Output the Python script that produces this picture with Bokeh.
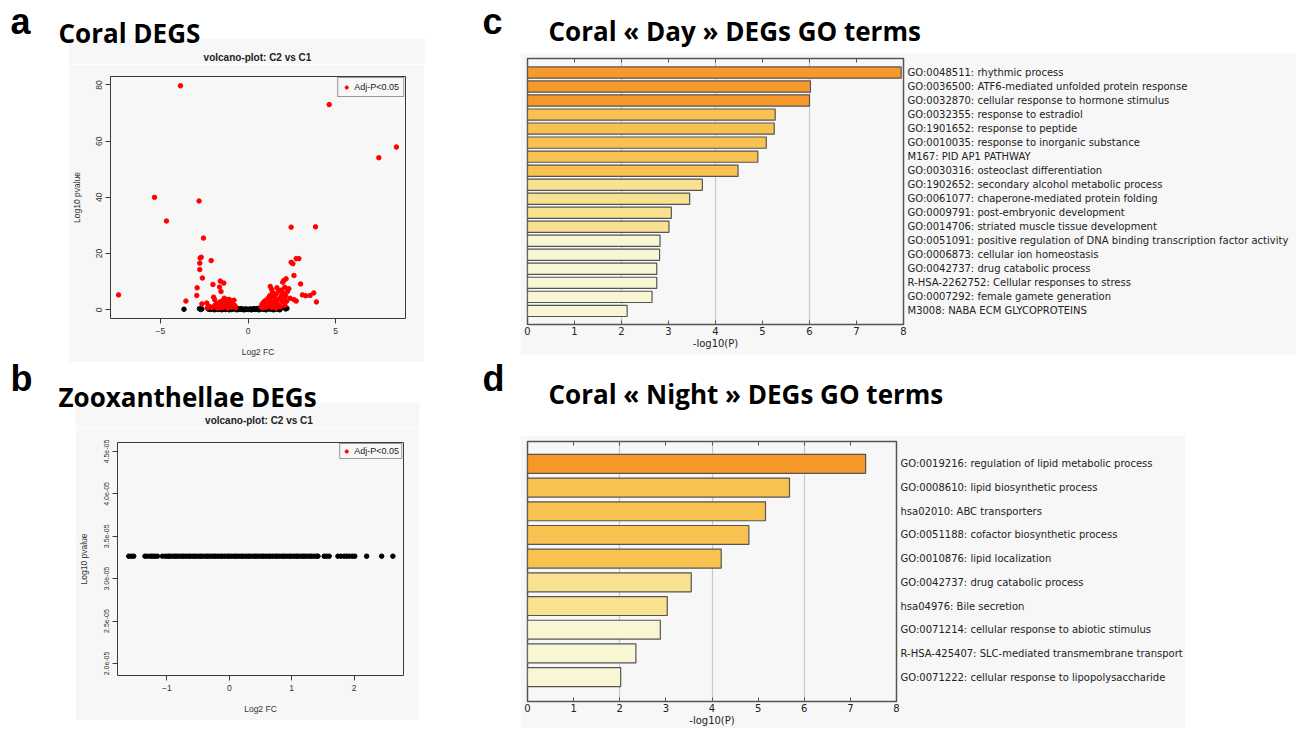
from bokeh.plotting import figure
from bokeh.models import (Range1d, FixedTicker, LinearAxis, Legend, LegendItem,
                          CustomJSTickFormatter, Spacer, BoxAnnotation)
from bokeh.layouts import column, row
from bokeh.core.properties import value
from bokeh.embed import file_html
from bokeh.resources import INLINE

# ---------------- data ----------------
# Panel a: coral volcano plot (Log2 FC, -log10 p)
coral_sig_points = [
    (-7.38, 5.3), (-3.85, 79.7), (-5.33, 40.0), (-4.65, 31.6), (-2.79, 38.7),
    (-2.54, 25.5), (-3.54, 3.1), (4.63, 73.0), (7.46, 54.1), (8.46, 57.9),
    (2.46, 29.4), (3.85, 29.5),
    (-2.73, 18.4), (-2.67, 18.7), (-2.75, 16.6), (-2.75, 14.3), (-2.60, 11.3),
    (-2.90, 7.8), (-2.92, 5.1), (-2.63, 2.1), (-2.10, 17.5), (-2.00, 9.0),
    (-1.58, 10.2), (-1.38, 9.5), (-1.62, 8.1), (-1.54, 6.5), (-1.96, 4.5),
    (-1.90, 3.6), (-2.35, 2.4),
    (-2.20, 1.2), (-2.05, 0.8), (-1.90, 1.5), (-1.80, 2.2), (-1.70, 1.0),
    (-1.60, 2.8), (-1.50, 1.8), (-1.45, 3.2), (-1.40, 0.9), (-1.30, 2.0),
    (-1.25, 3.6), (-1.20, 1.3), (-1.12, 2.6), (-1.05, 3.5), (-1.00, 1.7),
    (-0.95, 0.9), (-0.90, 2.3), (-0.85, 1.2), (-0.80, 3.4), (-0.75, 1.5),
    (-1.35, 4.1), (-1.15, 0.6), (-1.55, 0.7), (-0.70, 0.8), (-1.75, 0.6),
    (-2.30, 0.7), (-0.95, 2.9), (-1.10, 3.7),
    (2.46, 16.9), (2.56, 16.4), (2.75, 18.2), (2.90, 18.2), (2.62, 12.2),
    (3.00, 9.2), (2.04, 10.4), (2.17, 11.0), (1.98, 9.8), (2.33, 7.5),
    (3.10, 5.3), (3.29, 5.0), (3.54, 5.1), (3.75, 6.0), (3.90, 2.8),
    (2.40, 4.1), (2.62, 3.6), (2.75, 3.1), (1.27, 8.3), (1.65, 7.8),
    (0.75, 1.0), (0.80, 2.0), (0.85, 0.7), (0.90, 2.8), (0.95, 1.5),
    (1.00, 3.3), (1.05, 0.9), (1.10, 2.4), (1.15, 4.2), (1.20, 1.6),
    (1.25, 5.1), (1.30, 3.0), (1.35, 0.8), (1.40, 6.2), (1.45, 2.2),
    (1.50, 4.6), (1.55, 1.3), (1.60, 5.6), (1.65, 3.4), (1.70, 2.0),
    (1.75, 6.8), (1.80, 4.0), (1.85, 1.1), (1.90, 5.2), (1.95, 2.9),
    (2.00, 6.0), (2.05, 3.8), (2.10, 1.6), (2.15, 4.9), (2.20, 3.0),
    (1.35, 7.2), (1.90, 7.0), (1.50, 3.0), (1.20, 3.8), (1.05, 2.1),
    (1.75, 1.2), (1.60, 0.6), (2.25, 6.5), (2.10, 8.0), (1.30, 4.6),
]
coral_ns_points = [
    (-3.65, 0.2), (-2.77, 0.4), (-2.70, 0.1), (-2.63, 0.3), (-2.30, 0.6),
    (-2.24, 0.2), (-2.18, 0.8), (-2.12, 0.1), (-2.06, 0.5), (-2.00, 0.3),
    (-1.94, 0.7), (-1.88, 0.2), (-1.82, 0.4), (-1.76, 0.9), (-1.70, 0.1),
    (-1.64, 0.6), (-1.58, 0.3), (-1.52, 0.5), (-1.46, 0.2), (-1.40, 0.8),
    (-1.34, 0.4), (-1.28, 0.1), (-1.22, 0.6), (-1.16, 0.3), (-1.10, 0.7),
    (-1.04, 0.2), (-0.98, 0.5), (-0.92, 0.1), (-0.86, 0.4), (-0.80, 0.6),
    (-0.74, 0.3), (-0.68, 0.2), (-0.62, 0.5), (-0.56, 0.1), (-0.50, 0.3),
    (-0.44, 0.2), (-0.38, 0.4), (-0.32, 0.1), (-0.26, 0.2), (-0.20, 0.1),
    (-0.14, 0.3), (-0.08, 0.1), (-0.02, 0.2), (0.04, 0.1), (0.10, 0.2),
    (0.16, 0.3), (0.22, 0.1), (0.28, 0.2), (0.34, 0.4), (0.40, 0.1),
    (0.46, 0.3), (0.52, 0.2), (0.58, 0.5), (0.64, 0.1), (0.70, 0.4),
    (0.76, 0.6), (0.82, 0.2), (0.88, 0.3), (0.94, 0.7), (1.00, 0.1),
    (1.06, 0.5), (1.12, 0.4), (1.18, 0.8), (1.24, 0.2), (1.30, 0.6),
    (1.36, 0.3), (1.42, 0.7), (1.48, 0.1), (1.54, 0.5), (1.60, 0.9),
    (1.66, 0.2), (1.72, 0.4), (1.78, 0.6), (1.84, 0.3), (1.90, 0.8),
    (2.15, 0.3), (2.22, 0.5),
    (-1.91, 0.0), (-1.49, 0.0), (-1.07, 0.0), (-0.65, 0.0), (-0.23, 0.0),
    (0.19, 0.0), (0.61, 0.0), (1.03, 0.0), (1.45, 0.0), (1.81, 0.0),
]

# Panel b: zooxanthellae volcano plot (no significant genes)
zoox_x = [-1.61, -1.57, -1.53, -1.35, -1.31, -1.26, -1.23, -1.19, -1.15, -1.07,
          -1.02, -0.98, -0.95, -0.91, -0.87, -0.84, -0.80, -0.76, -0.73, -0.69,
          -0.65, -0.62, -0.58, -0.55, -0.51, -0.47, -0.44, -0.40, -0.36, -0.33,
          -0.29, -0.25, -0.22, -0.18, -0.14, -0.11, -0.07, -0.03, 0.00, 0.04,
          0.08, 0.11, 0.15, 0.19, 0.22, 0.26, 0.30, 0.33, 0.37, 0.41,
          0.44, 0.48, 0.52, 0.55, 0.59, 0.63, 0.66, 0.70, 0.74, 0.77,
          0.81, 0.85, 0.88, 0.92, 0.96, 0.99, 1.03, 1.07, 1.10, 1.14,
          1.18, 1.21, 1.25, 1.29, 1.32, 1.36, 1.40, 1.42, 1.52, 1.56,
          1.60, 1.74, 1.79, 1.84, 1.88, 1.92, 1.97, 2.01, 2.20, 2.44, 2.62]
zoox_logp = [3.265e-05] * len(zoox_x)
zoox_sig_x = [float("nan")]   # no significant gene: legend key only
zoox_sig_y = [float("nan")]

# Panel c: coral "Day" GO terms
day_terms = [
    "GO:0048511: rhythmic process",
    "GO:0036500: ATF6-mediated unfolded protein response",
    "GO:0032870: cellular response to hormone stimulus",
    "GO:0032355: response to estradiol",
    "GO:1901652: response to peptide",
    "GO:0010035: response to inorganic substance",
    "M167: PID AP1 PATHWAY",
    "GO:0030316: osteoclast differentiation",
    "GO:1902652: secondary alcohol metabolic process",
    "GO:0061077: chaperone-mediated protein folding",
    "GO:0009791: post-embryonic development",
    "GO:0014706: striated muscle tissue development",
    "GO:0051091: positive regulation of DNA binding transcription factor activity",
    "GO:0006873: cellular ion homeostasis",
    "GO:0042737: drug catabolic process",
    "R-HSA-2262752: Cellular responses to stress",
    "GO:0007292: female gamete generation",
    "M3008: NABA ECM GLYCOPROTEINS",
]
day_values = [7.95, 6.02, 6.00, 5.27, 5.25, 5.08, 4.90, 4.48, 3.72, 3.45,
              3.06, 3.01, 2.82, 2.81, 2.75, 2.75, 2.65, 2.12]

# Panel d: coral "Night" GO terms
night_terms = [
    "GO:0019216: regulation of lipid metabolic process",
    "GO:0008610: lipid biosynthetic process",
    "hsa02010: ABC transporters",
    "GO:0051188: cofactor biosynthetic process",
    "GO:0010876: lipid localization",
    "GO:0042737: drug catabolic process",
    "hsa04976: Bile secretion",
    "GO:0071214: cellular response to abiotic stimulus",
    "R-HSA-425407: SLC-mediated transmembrane transport",
    "GO:0071222: cellular response to lipopolysaccharide",
]
night_values = [7.33, 5.68, 5.16, 4.80, 4.20, 3.55, 3.03, 2.88, 2.35, 2.02]

# -log10(P) colour bins (Metascape style)
bin_edges = [3, 4, 6]
bin_colors = ["#f8f6d3", "#f8e18f", "#f7c24f", "#f7982b"]

# ---------------- styles ----------------
PANEL_BG = "#f7f7f7"
R_FONT = "Liberation Sans"
MPL_FONT = "DejaVu Sans"
HEAD_FONT = "Open Sans"
LETTER_FONT = "Liberation Sans"


def blank(width, height):
    p = figure(width=width, height=height, x_range=Range1d(0, width),
               y_range=Range1d(0, height), toolbar_location=None, tools="",
               output_backend="svg", min_border=0, x_axis_location=None,
               y_axis_location=None, outline_line_color=None, frame_align=False,
               background_fill_color="white", border_fill_color="white")
    p.title = None
    p.grid.visible = False
    return p


def letters(width, height, items):
    # items: (letter, x, vertical middle from top)
    p = blank(width, height)
    for (txt, x, mid) in items:
        p.text(x=[x], y=[height - mid], text=[txt], text_font=value(LETTER_FONT),
               text_font_style="bold", text_font_size="36px", text_color="black",
               text_baseline="middle", text_align="left")
    return p


def header(width, height, title, tx, tmid, strip=None, sub=None):
    p = blank(width, height)
    if strip is not None:
        p.add_layout(BoxAnnotation(left=strip[0], right=strip[1], bottom=0,
                                   top=height - strip[2], fill_color=PANEL_BG,
                                   fill_alpha=1, line_color=None, level="underlay"))
    p.text(x=[tx], y=[height - tmid], text=[title], text_font=value(HEAD_FONT),
           text_font_style="bold", text_font_size="26px", text_color="black",
           text_baseline="middle", text_align="left")
    if sub is not None:
        p.text(x=[sub[1]], y=[height - sub[2]], text=[sub[0]], text_font=value(R_FONT),
               text_font_style="bold", text_font_size="10px", text_color="#222222",
               text_baseline="middle", text_align="center")
    return p


def volcano(width, height, bl, br, bt, bb, xr, yr, xticks, yticks,
            ns_x, ns_y, sig_x, sig_y, legend_pad, ytick_size, yfmt=None,
            ylab_standoff=12):
    p = figure(width=width, height=height, x_range=Range1d(*xr), y_range=Range1d(*yr),
               toolbar_location=None, tools="", output_backend="svg", frame_align=False,
               min_border_left=bl, min_border_right=br, min_border_top=bt,
               min_border_bottom=bb, background_fill_color=PANEL_BG,
               border_fill_color=PANEL_BG, outline_line_color="#3a3a3a",
               outline_line_width=1)
    p.title = None
    p.grid.visible = False
    for ax in (p.xaxis[0], p.yaxis[0]):
        ax.axis_line_color = None
        ax.major_tick_out = 5
        ax.major_tick_in = 0
        ax.minor_tick_line_color = None
        ax.major_tick_line_color = "#3a3a3a"
        ax.major_label_text_font = R_FONT
        ax.major_label_text_color = "#333333"
        ax.axis_label_text_font = R_FONT
        ax.axis_label_text_font_size = "8.5px"
        ax.axis_label_text_font_style = "normal"
        ax.axis_label_text_color = "#333333"
    p.xaxis.ticker = FixedTicker(ticks=xticks)
    p.yaxis.ticker = FixedTicker(ticks=yticks)
    p.xaxis.major_label_text_font_size = "8.5px"
    p.yaxis.major_label_text_font_size = ytick_size
    p.yaxis.major_label_orientation = "vertical"
    p.xaxis.major_label_standoff = 4
    p.yaxis.major_label_standoff = 3
    p.xaxis.axis_label = "Log2 FC"
    p.yaxis.axis_label = "Log10 pvalue"
    p.xaxis.axis_label_standoff = 10
    p.yaxis.axis_label_standoff = ylab_standoff
    if yfmt is not None:
        p.yaxis.formatter = yfmt
    p.scatter(ns_x, ns_y, size=4.5, color="black")
    r_sig = p.scatter(sig_x, sig_y, size=4.5, color="red")
    leg = Legend(items=[LegendItem(label="Adj-P<0.05", renderers=[r_sig], index=0)],
                 location="top_right", margin=1, padding=legend_pad, spacing=0,
                 glyph_width=8, glyph_height=8, label_height=10, label_width=10,
                 label_standoff=4, label_text_font=R_FONT, label_text_font_size="9px",
                 label_text_color="#222222", border_line_color="#3a3a3a",
                 border_line_width=1, background_fill_color=PANEL_BG,
                 background_fill_alpha=1)
    p.add_layout(leg)
    return p


def go_bars(width, height, bl, br, bt, bb, terms, vals, yr):
    ypos = list(range(len(terms)))
    colors = [bin_colors[sum(v >= e for e in bin_edges)] for v in vals]
    p = figure(width=width, height=height, x_range=Range1d(0, 8), y_range=Range1d(*yr),
               toolbar_location=None, tools="", output_backend="svg", frame_align=False,
               y_axis_location="right",
               min_border_left=bl, min_border_right=br, min_border_top=bt,
               min_border_bottom=bb, background_fill_color=PANEL_BG,
               border_fill_color=PANEL_BG, outline_line_color="#555555",
               outline_line_width=1.5)
    p.title = None
    p.hbar(y=ypos, left=0, right=vals, height=0.8, fill_color=colors,
           line_color="#555555", line_width=1.2)
    p.ygrid.visible = False
    p.xgrid.ticker = FixedTicker(ticks=[2, 4, 6])
    p.xgrid.grid_line_color = "#c9c9c9"
    p.xgrid.grid_line_width = 1.2
    xa = p.xaxis[0]
    xa.ticker = FixedTicker(ticks=list(range(0, 9)))
    xa.axis_line_color = None
    xa.major_tick_in = 4
    xa.major_tick_out = 0
    xa.major_tick_line_color = "#555555"
    xa.minor_tick_line_color = None
    xa.major_label_text_font = MPL_FONT
    xa.major_label_text_font_size = "10px"
    xa.major_label_text_color = "#222222"
    xa.major_label_standoff = 2
    xa.axis_label = "-log10(P)"
    xa.axis_label_text_font = MPL_FONT
    xa.axis_label_text_font_size = "10px"
    xa.axis_label_text_font_style = "normal"
    xa.axis_label_text_color = "#222222"
    xa.axis_label_standoff = 0
    top = LinearAxis(ticker=FixedTicker(ticks=list(range(0, 9))), axis_line_color=None,
                     major_tick_in=4, major_tick_out=0, major_tick_line_color="#555555",
                     minor_tick_line_color=None, major_label_text_alpha=0,
                     major_label_text_font_size="1px", major_label_standoff=0)
    p.add_layout(top, "above")
    ya = p.yaxis[0]
    ya.ticker = FixedTicker(ticks=ypos)
    ya.major_label_overrides = {i: t for i, t in zip(ypos, terms)}
    ya.axis_line_color = None
    ya.major_tick_in = 0
    ya.major_tick_out = 0
    ya.minor_tick_line_color = None
    ya.major_label_standoff = 4
    ya.major_label_text_font = MPL_FONT
    ya.major_label_text_font_size = "10px"
    ya.major_label_text_color = "#222222"
    return p


# ---------------- layout (page pixel positions) ----------------
# left side: letter strip x 0-56, content x 56-470
letL = letters(56, 720, [("a", 10, 21), ("b", 10, 378)])
hA = header(414, 64, "Coral DEGS", 2, 32, strip=(12, 368, 38),
            sub=("volcano-plot: C2 vs C1", 201, 57))
pA = volcano(356, 298, 41, 19, 12, 44, (-7.84, 8.98), (-3.1, 83.0),
             [-5, 0, 5], [0, 20, 40, 60, 80],
             [q[0] for q in coral_ns_points], [q[1] for q in coral_ns_points],
             [q[0] for q in coral_sig_points], [q[1] for q in coral_sig_points],
             legend_pad=4, ytick_size="8.5px")
hB = header(414, 66, "Zooxanthellae DEGs", 2, 34, strip=(19, 363, 40),
            sub=("volcano-plot: C2 vs C1", 202.5, 58))
sci_fmt = CustomJSTickFormatter(code="return tick.toExponential(1).replace('e-', 'e-0');")
pB = volcano(344, 292, 40, 16, 14, 45, (-1.79, 2.79), (1.858e-05, 4.606e-05),
             [-1, 0, 1, 2], [2.0e-05, 2.5e-05, 3.0e-05, 3.5e-05, 4.0e-05, 4.5e-05],
             zoox_x, zoox_logp, zoox_sig_x, zoox_sig_y,
             legend_pad=2, ytick_size="7px", yfmt=sci_fmt, ylab_standoff=13)

# right side: letter strip x 470-520, content x 520-1296
letR = letters(50, 728, [("c", 12, 21), ("d", 12, 378)])
hC = header(776, 53, "Coral « Day » DEGs GO terms", 28, 30)
pC = go_bars(776, 302, 7, 393, 5, 31, day_terms, day_values, (17.97, -1.0))
hD = header(776, 80, "Coral « Night » DEGs GO terms", 28, 38)
pD = go_bars(665, 293, 7, 288, 6, 26, night_terms, night_values, (10.03, -0.945))

colL = column(hA, row(Spacer(width=12, height=298), pA),
              hB, row(Spacer(width=19, height=292), pB))
colR = column(hC, pC, hD, pD)
layout = row(letL, colL, letR, colR)

open("out.html", "w").write(file_html(layout, INLINE))
